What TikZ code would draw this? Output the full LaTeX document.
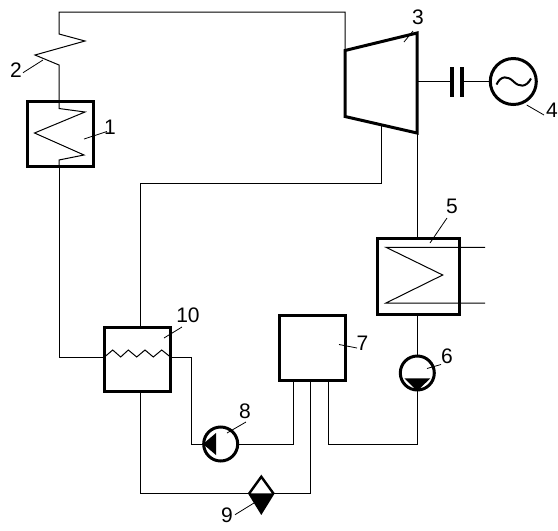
\documentclass[tikz,border=0pt]{standalone}
\usepackage{fontspec}
\setmainfont{Liberation Sans}
\usepackage{tikz}
\usetikzlibrary{shapes.geometric}
\tikzset{
  pipe/.style={line width=1pt, draw=black},
  leader/.style={line width=0.8pt, draw=black},
  part/.style={line width=3pt, draw=black, line join=miter},
  unitbox/.style={part, rectangle, inner sep=0pt, outer sep=0pt},
  pumpdisc/.style={part, circle, inner sep=0pt, outer sep=0pt, minimum size=34pt},
  tag/.style={inner sep=1pt, font=\fontsize{21}{21}\selectfont, text=black},
}
\begin{document}
\begin{tikzpicture}[x=1pt, y=-1pt]
  \useasboundingbox (0,0) rectangle (558,531);
  % units
  \node[unitbox, minimum width=66pt, minimum height=65pt] (boiler) at (60,133.5) {};
  \node[unitbox, minimum width=82pt, minimum height=76pt] (condenser) at (418,276.5) {};
  \node[unitbox, minimum width=66pt, minimum height=65pt] (tank) at (312,347.5) {};
  \node[unitbox, minimum width=66pt, minimum height=64pt] (heater) at (137.5,359) {};
  \node[pumpdisc] (condpump) at (417.3,373) {};
  \node[pumpdisc] (feedpump) at (220.7,444) {};
  \node[part, circle, inner sep=0pt, outer sep=0pt, minimum size=46pt] (generator) at (513.3,81.5) {};
  % turbine
  \draw[part] (345,50.5) coordinate (turbtl) -- (417,33) -- (417,133) coordinate (turbbr)
    -- (345,116.5) -- cycle;
  \coordinate (turbshaft) at (417,81.5);
  \coordinate (turbext) at (381.7,125);
  % clutch
  \coordinate (clutchl) at (451.5,81.5);
  \coordinate (clutchr) at (461.5,81.5);
  \draw[line width=4pt] (451.5,67) -- (451.5,97);
  \draw[line width=4pt] (461.5,67) -- (461.5,97);
  % pump symbols
  \fill (404.3,378.3) -- (430.3,378.3) -- (417.3,391) -- cycle;
  \fill (203,444) -- (216,433) -- (216,455) -- cycle;
  % drain pump, lower half solid
  \coordinate (drainl) at (249.3,493.3);
  \coordinate (drainr) at (273.3,493.3);
  \fill (249.3,493.3) -- (273.3,493.3) -- (261.3,512.7) -- cycle;
  \draw[part, line width=2.4pt] (249.3,493.3) -- (261.3,476.7) -- (273.3,493.3) -- (261.3,512.7) -- cycle;
  % steam line with superheater coil 2 and boiler coil
  \draw[pipe] (turbtl) |- (59,12) -- (59,34) -- (85,41) -- (35,55) -- (59,65) -- (boiler.north -| 59,0);
  \draw[pipe] (boiler.north -| 59,0) -- (59,108.5) -- (85,112) -- (34.5,133) -- (84,155) -- (59,160)
    -- (boiler.south -| 59,0);
  \draw[pipe] (boiler.south -| 59,0) |- (heater.west |- 0,357);
  % heater tube
  \draw[pipe] (heater.west |- 0,357) -- (112.7,350) -- (120.7,357) -- (128.3,350) -- (136.7,357)
    -- (145,350) -- (153.3,357) -- (161.7,350) -- (heater.east |- 0,357);
  % extraction and shaft
  \draw[pipe] (turbext) |- (140.7,183) -- (heater.north -| 140.7,0);
  \draw[pipe] (turbshaft) -- (clutchl);
  \draw[pipe] (clutchr) -- (generator);
  \draw[line width=2pt] (496.5,84.5) .. controls (501,75) and (508,76) .. (513.5,81.5)
    .. controls (519,87) and (526,88) .. (531,78.5);
  % condenser
  \draw[pipe] (turbbr) -- (condenser.north -| turbbr);
  \draw[pipe] (485,247.3) -- (386,247.3) -- (442.7,275) -- (386,303) -- (485,303);
  \draw[pipe] (condenser.south -| condpump) -- (condpump);
  % condensate and feed lines
  \draw[pipe] (condpump) -- (417.3,444) -| (tank.south -| 328.3,0);
  \draw[pipe] (tank.south -| 293.3,0) |- (feedpump);
  \draw[pipe] (feedpump) -| (191,357) -- (heater.east |- 0,357);
  \draw[pipe] (heater.south -| 140.7,0) |- (drainl);
  \draw[pipe] (drainr) -| (tank.south -| 310.3,0);
  % position numbers
  \foreach \num/\tx/\ty/\sx/\sy/\ax/\ay in {
      1/110/127/107/131.5/84/139, 2/16/70.5/23/72.7/43/60, 3/418/17.5/413/31/404/42,
      4/552/110.5/544/115/526.7/105, 5/452/206/447/218/430/243, 6/447/356/441/364.5/427/368.5,
      7/362.5/343/357/348/339/344.5, 8/245/411/246/422/227/433, 9/227/515/235/514.7/254/503,
      10/188/315/182/327/164/338}{
    \node[tag] (tag\num) at (\tx,\ty) {\num};
    \coordinate (tail\num) at (\sx,\sy);
    \coordinate (tip\num) at (\ax,\ay);
    \draw[leader] (tail\num) -- (tip\num);
  }
\end{tikzpicture}
\end{document}
